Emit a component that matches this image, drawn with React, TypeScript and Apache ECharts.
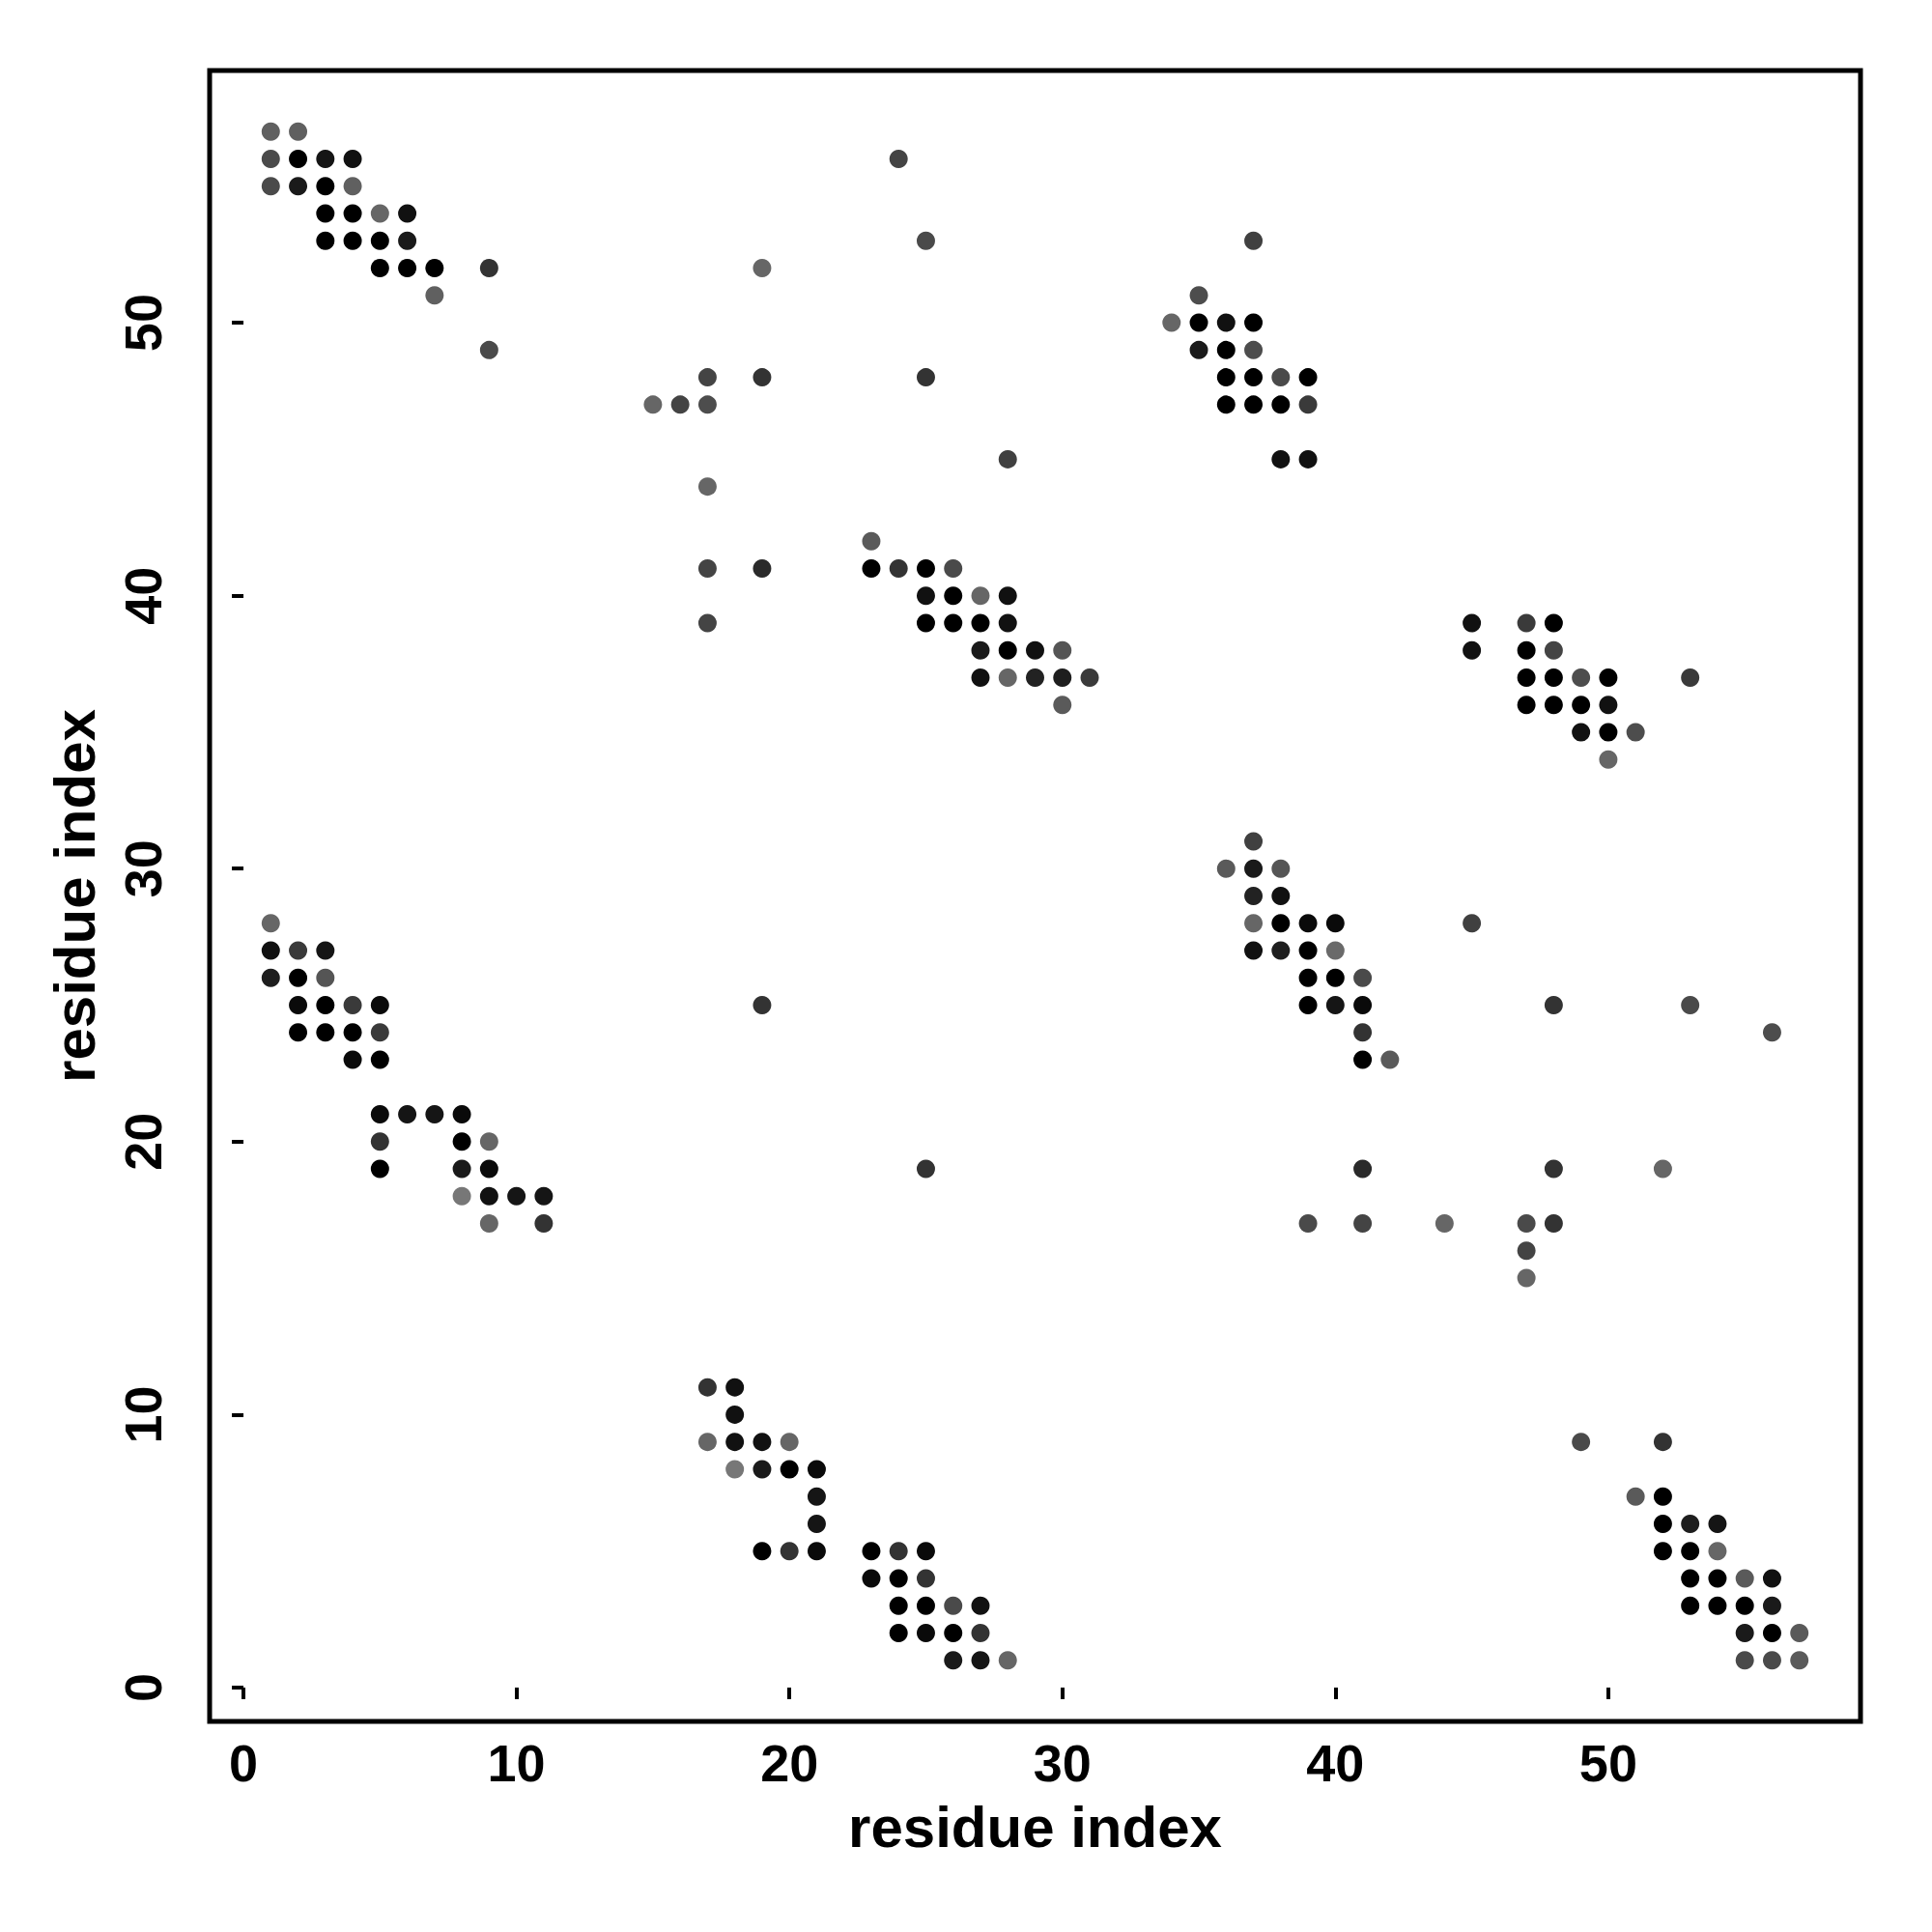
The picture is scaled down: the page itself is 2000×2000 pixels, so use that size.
import React, { useEffect, useRef } from "react";
import * as echarts from "echarts";

// Each contact: [residue i, residue j, grey level 0 (black) .. 119 (light grey)]
const blockTopLeft: number[][] = [
  [1, 57, 96], [2, 57, 96],
  [1, 56, 74], [2, 56, 0], [3, 56, 21], [4, 56, 17],
  [1, 55, 74], [2, 55, 26], [3, 55, 0], [4, 55, 96],
  [3, 54, 0], [4, 54, 0], [5, 54, 102], [6, 54, 17],
  [3, 53, 0], [4, 53, 0], [5, 53, 0], [6, 53, 26],
  [5, 52, 0], [6, 52, 0], [7, 52, 0], [9, 52, 51],
  [7, 51, 96],
  [9, 49, 74],
];

const blockUpperMiddle: number[][] = [
  [24, 56, 68], [19, 52, 102], [25, 53, 74], [17, 48, 68], [19, 48, 51], [25, 48, 51],
  [15, 47, 102], [16, 47, 68], [17, 47, 77], [28, 45, 64], [17, 44, 102],
  [23, 42, 90],
  [17, 41, 68], [19, 41, 42], [23, 41, 0], [24, 41, 51], [25, 41, 0], [26, 41, 74],
  [25, 40, 17], [26, 40, 0], [27, 40, 102], [28, 40, 17],
  [17, 39, 68], [25, 39, 0], [26, 39, 0], [27, 39, 0], [28, 39, 17],
  [27, 38, 26], [28, 38, 0], [29, 38, 17], [30, 38, 85],
  [27, 37, 17], [28, 37, 102], [29, 37, 34], [30, 37, 30], [31, 37, 58],
  [30, 36, 90],
];

const blockUpperRight: number[][] = [
  [37, 53, 64], [35, 51, 77],
  [34, 50, 102], [35, 50, 0], [36, 50, 17], [37, 50, 0],
  [35, 49, 26], [36, 49, 0], [37, 49, 77],
  [36, 48, 0], [37, 48, 0], [38, 48, 74], [39, 48, 0],
  [36, 47, 0], [37, 47, 0], [38, 47, 0], [39, 47, 58],
  [38, 45, 17], [39, 45, 17],
];

const blockRight: number[][] = [
  [45, 39, 17], [47, 39, 58], [48, 39, 0],
  [45, 38, 17], [47, 38, 0], [48, 38, 68],
  [47, 37, 0], [48, 37, 0], [49, 37, 77], [50, 37, 0], [53, 37, 58],
  [47, 36, 0], [48, 36, 0], [49, 36, 0], [50, 36, 17],
  [49, 35, 17], [50, 35, 0], [51, 35, 77],
  [50, 34, 102],
];

const blockLeft: number[][] = [
  [1, 28, 102],
  [1, 27, 17], [2, 27, 58], [3, 27, 21],
  [1, 26, 30], [2, 26, 0], [3, 26, 85],
  [2, 25, 10], [3, 25, 0], [4, 25, 58], [5, 25, 10],
  [2, 24, 0], [3, 24, 0], [4, 24, 0], [5, 24, 58],
  [4, 23, 10], [5, 23, 0],
  [5, 21, 10], [6, 21, 21], [7, 21, 21], [8, 21, 10],
  [5, 20, 51], [8, 20, 0], [9, 20, 102],
  [5, 19, 0], [8, 19, 26], [9, 19, 10],
  [8, 18, 119], [9, 18, 17], [10, 18, 21], [11, 18, 21],
  [9, 17, 102], [11, 17, 51],
];

const blockCentreRight: number[][] = [
  [37, 31, 64],
  [36, 30, 90], [37, 30, 26], [38, 30, 85],
  [37, 29, 34], [38, 29, 17],
  [37, 28, 102], [38, 28, 0], [39, 28, 10], [40, 28, 10], [45, 28, 64],
  [37, 27, 17], [38, 27, 30], [39, 27, 0], [40, 27, 106],
  [39, 26, 0], [40, 26, 0], [41, 26, 74],
  [39, 25, 0], [40, 25, 21], [41, 25, 10], [48, 25, 51], [53, 25, 74],
  [41, 24, 51], [56, 24, 77],
  [41, 23, 0], [42, 23, 90],
];

const scattered: number[][] = [
  [19, 25, 51], [25, 19, 51],
  [41, 19, 42], [48, 19, 51], [52, 19, 102],
  [39, 17, 74], [41, 17, 68], [44, 17, 102], [47, 17, 74], [48, 17, 51],
  [47, 16, 68], [47, 15, 102],
];

const blockLowerMiddle: number[][] = [
  [17, 11, 51], [18, 11, 17],
  [18, 10, 17],
  [17, 9, 102], [18, 9, 17], [19, 9, 17], [20, 9, 102],
  [18, 8, 119], [19, 8, 26], [20, 8, 0], [21, 8, 10],
  [21, 7, 21],
  [21, 6, 21],
  [19, 5, 0], [20, 5, 51], [21, 5, 10], [23, 5, 0], [24, 5, 51], [25, 5, 10],
  [23, 4, 10], [24, 4, 0], [25, 4, 51],
  [24, 3, 0], [25, 3, 0], [26, 3, 74], [27, 3, 17],
  [24, 2, 0], [25, 2, 10], [26, 2, 0], [27, 2, 51],
  [26, 1, 26], [27, 1, 21], [28, 1, 102],
];

const blockLowerRight: number[][] = [
  [49, 9, 74], [52, 9, 51],
  [51, 7, 90], [52, 7, 0],
  [52, 6, 0], [53, 6, 30], [54, 6, 21],
  [52, 5, 0], [53, 5, 0], [54, 5, 102],
  [53, 4, 0], [54, 4, 0], [55, 4, 90], [56, 4, 17],
  [53, 3, 0], [54, 3, 0], [55, 3, 0], [56, 3, 26],
  [55, 2, 26], [56, 2, 0], [57, 2, 90],
  [55, 1, 74], [56, 1, 74], [57, 1, 90],
];

const tickValues = [0, 10, 20, 30, 40, 50];
const axisTitle = "residue index";
const axisMin = -1.24;
const axisMax = 59.24;

const FONT = "Liberation Sans, Arial, Helvetica, sans-serif";

export default function App() {
  const ref = useRef<HTMLDivElement>(null);

  useEffect(() => {
    if (!ref.current) return;
    const chart = echarts.init(ref.current, undefined, { renderer: "svg" });
    const all = [
      ...blockTopLeft,
      ...blockUpperMiddle,
      ...blockUpperRight,
      ...blockRight,
      ...blockLeft,
      ...blockCentreRight,
      ...scattered,
      ...blockLowerMiddle,
      ...blockLowerRight,
    ];
    const grey = (g: number) => `rgb(${g},${g},${g})`;
    const axisCommon = {
      type: "value" as const,
      min: axisMin,
      max: axisMax,
      splitLine: { show: false },
      axisLine: { show: false },
      axisTick: {
        show: true,
        customValues: tickValues,
        length: 12,
        inside: false,
        lineStyle: { color: "#000", width: 4 },
      },
      nameLocation: "middle" as const,
      name: axisTitle,
      nameTextStyle: {
        fontFamily: FONT,
        fontWeight: "bold" as const,
        fontSize: 60,
        color: "#000",
      },
    };
    chart.setOption({
      animation: false,
      backgroundColor: "#fff",
      grid: {
        left: 217,
        top: 73,
        width: 1709,
        height: 1709,
        show: true,
        borderColor: "#000",
        borderWidth: 5,
        backgroundColor: "transparent",
      },
      xAxis: {
        ...axisCommon,
        nameGap: 79,
        axisLabel: {
          customValues: tickValues,
          margin: 16,
          fontFamily: FONT,
          fontWeight: "bold",
          fontSize: 54,
          color: "#000",
        },
      },
      yAxis: {
        ...axisCommon,
        nameGap: 110,
        axisLabel: {
          customValues: tickValues,
          rotate: 90,
          margin: 42,
          fontFamily: FONT,
          fontWeight: "bold",
          fontSize: 54,
          color: "#000",
        },
      },
      series: [
        {
          type: "scatter",
          symbol: "circle",
          symbolSize: 19,
          itemStyle: { opacity: 1 },
          data: all.map((d) => ({
            value: [d[0], d[1]],
            itemStyle: { color: grey(d[2]), opacity: 1 },
          })),
        },
      ],
    });
    return () => chart.dispose();
  }, []);

  return (
    <div
      ref={ref}
      style={{
        position: "absolute",
        left: 0,
        top: 0,
        width: 2000,
        height: 2000,
        background: "#fff",
      }}
    />
  );
}
